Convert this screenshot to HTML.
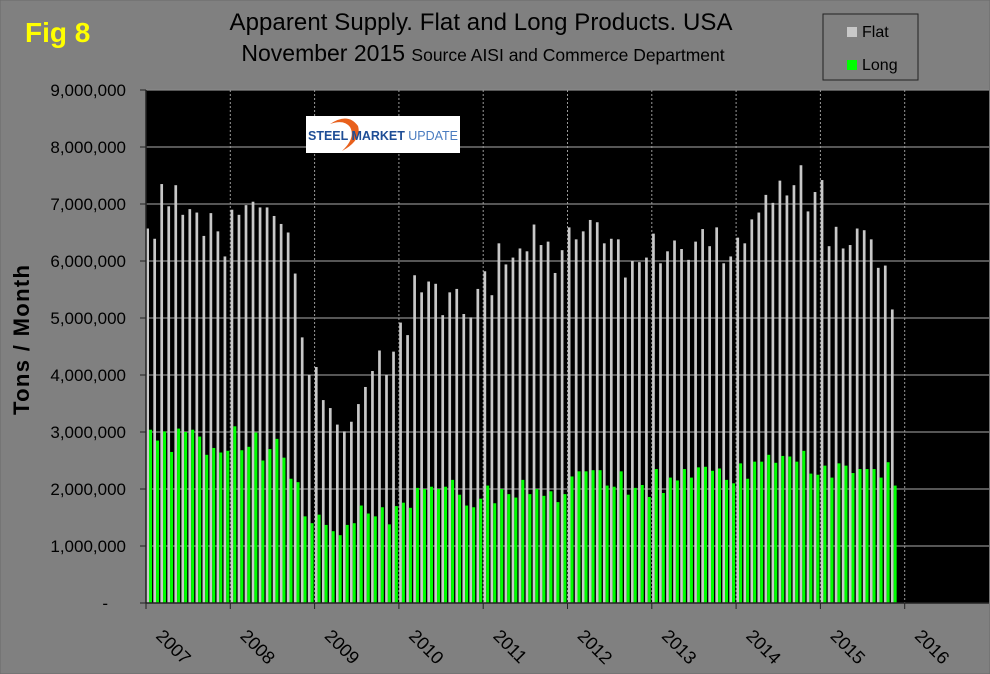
<!DOCTYPE html>
<html><head><meta charset="utf-8"><style>
html,body{margin:0;padding:0;background:#808080;}
svg{display:block;font-family:"Liberation Sans",Arial,sans-serif;}
</style></head><body>
<svg id="chart" width="990" height="674" viewBox="0 0 990 674">
<rect x="0" y="0" width="990" height="674" fill="#808080" stroke="#6a6a6a"/>
<text x="25" y="42" font-size="28" font-weight="bold" fill="#ffff00">Fig 8</text>
<text x="481" y="30" font-size="24" text-anchor="middle" fill="#000" textLength="503">Apparent Supply. Flat and Long Products. USA</text>
<text x="483" y="61" font-size="23" text-anchor="middle" fill="#000">November 2015 <tspan font-size="17.5">Source AISI and Commerce Department</tspan></text>
<rect x="146" y="90" width="843" height="513" fill="#000"/>
<g id="grid"></g>
<g id="bars"></g>
<g id="axes"></g>
<g>
<rect x="306" y="116" width="154" height="37" fill="#fff"/>
<path d="M330 124 Q348 112 358 126 Q362 140 342 151 Q356 138 350 127 Q344 119 330 124Z" fill="#e8601c"/>
<text x="308" y="140" font-size="12.5" font-weight="bold" fill="#1f4e96" textLength="150">STEEL MARKET <tspan font-weight="normal" fill="#4a7cc0">UPDATE</tspan></text>
</g>
<g>
<rect x="823" y="14" width="95" height="66" fill="#808080" stroke="#222" stroke-width="1"/>
<rect x="847" y="27" width="10" height="10" fill="#c8c8c8"/>
<text x="862" y="37" font-size="16" fill="#000">Flat</text>
<rect x="847" y="60" width="10" height="10" fill="#00ff00"/>
<text x="862" y="70" font-size="16" fill="#000">Long</text>
</g>
<text transform="translate(29,340) rotate(-90)" font-size="22" font-weight="bold" text-anchor="middle" fill="#000" textLength="150">Tons / Month</text>
</svg>
<script>
const flat = [6.57,6.39,7.35,6.96,7.33,6.81,6.91,6.85,6.44,6.84,6.52,6.08,
6.90,6.81,6.98,7.04,6.94,6.94,6.79,6.65,6.50,5.78,4.66,4.00,
4.14,3.56,3.42,3.13,3.01,3.18,3.49,3.79,4.07,4.43,4.00,4.41,
4.92,4.70,5.75,5.45,5.64,5.60,5.05,5.45,5.51,5.07,5.01,5.51,
5.82,5.40,6.31,5.94,6.06,6.22,6.17,6.64,6.28,6.34,5.79,6.19,
6.59,6.38,6.52,6.72,6.68,6.31,6.39,6.38,5.71,6.00,5.98,6.06,
6.48,5.96,6.17,6.36,6.21,6.02,6.34,6.56,6.26,6.59,5.96,6.08,
6.41,6.31,6.73,6.85,7.16,7.02,7.41,7.15,7.33,7.68,6.87,7.21,
7.42,6.26,6.60,6.22,6.28,6.57,6.54,6.38,5.88,5.92,5.15];
const longP = [3.04,2.85,3.01,2.65,3.06,3.00,3.04,2.92,2.60,2.72,2.64,2.67,
3.10,2.68,2.74,2.99,2.50,2.70,2.88,2.55,2.18,2.12,1.52,1.40,
1.55,1.37,1.26,1.19,1.37,1.40,1.71,1.57,1.52,1.68,1.38,1.70,
1.76,1.67,2.02,2.00,2.04,2.00,2.04,2.16,1.90,1.71,1.68,1.83,
2.06,1.75,2.00,1.91,1.85,2.16,1.91,2.00,1.88,1.96,1.77,1.91,
2.22,2.31,2.31,2.33,2.33,2.06,2.04,2.31,1.90,2.02,2.07,1.86,
2.35,1.93,2.20,2.15,2.35,2.20,2.38,2.39,2.32,2.36,2.16,2.10,
2.45,2.18,2.48,2.48,2.60,2.46,2.58,2.57,2.48,2.67,2.27,2.25,
2.41,2.20,2.45,2.41,2.28,2.35,2.35,2.35,2.20,2.47,2.06];
const years = ["2007","2008","2009","2010","2011","2012","2013","2014","2015","2016"];
const yTicks = ["-","1,000,000","2,000,000","3,000,000","4,000,000","5,000,000","6,000,000","7,000,000","8,000,000","9,000,000"];

const NS="http://www.w3.org/2000/svg";
const X0=146,X1=989,Y0=603,Y1=90,MONTHS=120,YMAX=9;
const mw=(X1-X0)/MONTHS;
function xm(i){return X0+i*mw;}
function yv(v){return Y0-(v/YMAX)*(Y0-Y1);}
function mk(tag,a,parent){const e=document.createElementNS(NS,tag);for(const k in a)e.setAttribute(k,a[k]);parent.appendChild(e);return e;}
const grid=document.getElementById('grid'),bars=document.getElementById('bars'),axes=document.getElementById('axes');
yTicks.forEach((t,i)=>{
  const y=yv(i);
  if(i>0){const g=mk('line',{x1:X0,x2:X1,y1:y,y2:y,stroke:'#8a8a8a','stroke-width':1.2},grid);
  
  }
  const tk=mk('line',{x1:X0-6,x2:X0,y1:y,y2:y,stroke:'#222'},axes);
  
  
  const tx=mk('text',{x:i==0?108:126,y:y+6,'font-size':17,'text-anchor':'end',fill:'#000'},axes);
  tx.textContent=t;
  
  
});
years.forEach((yr,j)=>{
  const x=xm(j*12);
  if(j>0){const g=mk('line',{x1:x,x2:x,y1:Y1,y2:Y0,stroke:'#999','stroke-dasharray':'2,2'},grid);
  
  }
  const tk=mk('line',{x1:x,x2:x,y1:Y0,y2:Y0+6,stroke:'#222'},axes);
  
  
  const tx=mk('text',{transform:`translate(${x+9},${Y0+34}) rotate(45)`,'font-size':18,fill:'#000'},axes);
  tx.textContent=yr;
  
  
});
flat.forEach((v,i)=>{
  const r=mk('rect',{x:xm(i)+0.3,y:yv(v),width:2.7,height:Y0-yv(v),fill:'#c8c8c8'},bars);
  
  
});
longP.forEach((v,i)=>{
  const r=mk('rect',{x:xm(i)+3,y:yv(v),width:3,height:Y0-yv(v),fill:'#00ff00'},bars);
  
  
});
const ax=mk('line',{x1:X0,x2:X1,y1:Y0,y2:Y0,stroke:'#222','stroke-width':1.5},axes);


const ay=mk('line',{x1:X0,x2:X0,y1:Y1,y2:Y0,stroke:'#222','stroke-width':1.5},axes);


</script>
</body></html>
